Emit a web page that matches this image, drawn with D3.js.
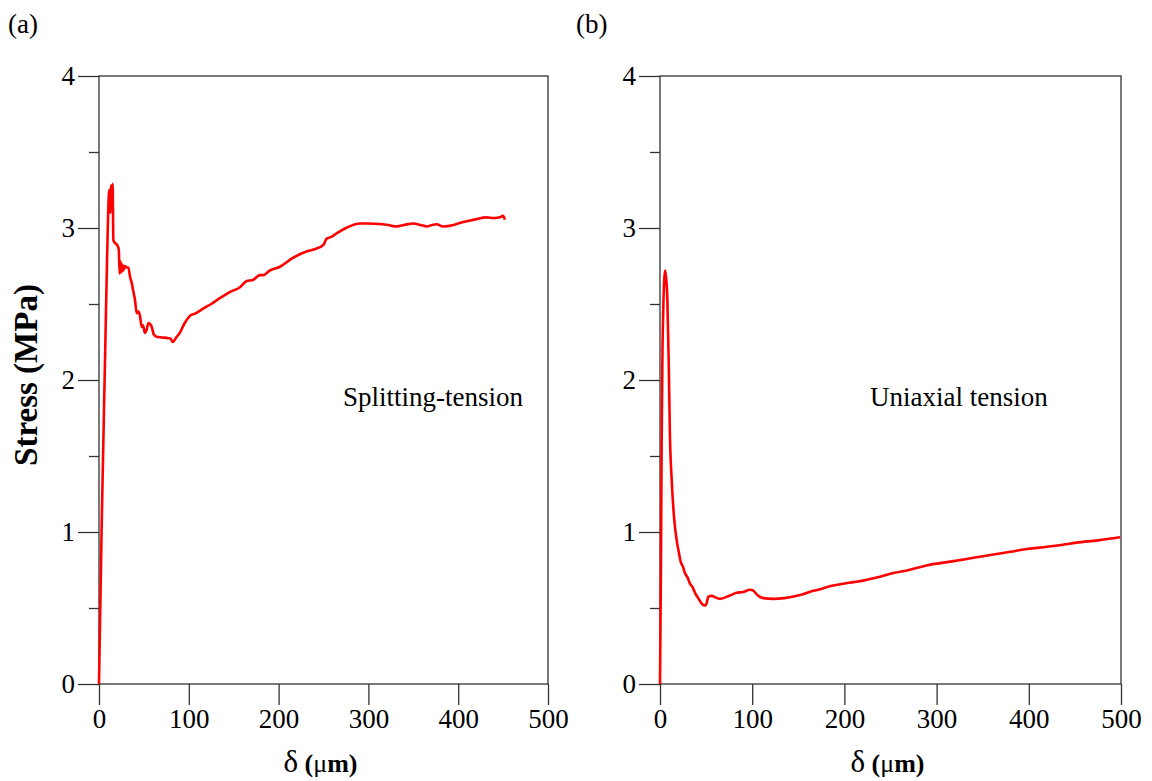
<!DOCTYPE html>
<html>
<head>
<meta charset="utf-8">
<script src="https://cdn.jsdelivr.net/npm/d3@7"></script>
<style>
  body { margin: 0; background: #fff; }
  svg { display: block; font-family: "Liberation Serif", "Times New Roman", serif; }
</style>
</head>
<body>
<svg id="chart" width="1152" height="781"></svg>
<script>
// ---- data (delta in um, stress in MPa) ----
var splitX = [0, 3, 6.7, 9, 11.5, 12.5, 13.5, 14.5, 15.2, 16, 18, 20, 22, 23, 24, 25, 26, 27, 29, 31,
    32.7, 34.5, 36.4, 38, 40, 42, 44, 45.7, 47.5, 49, 51, 53, 55, 56.5, 58.7, 61, 64, 70, 77, 80, 82,
    86, 90, 95, 101, 108, 116, 125, 135, 146, 157, 164, 172, 179, 183, 190, 201.5, 215, 231, 240, 250,
    253.5, 258, 264.7, 275, 290.6, 300, 313, 322, 331.5, 340, 350, 358, 365, 371, 376, 383, 395, 405.7,
    418, 431.7, 440, 446.5, 450, 452];
var splitY = [0, 1.05, 2.13, 2.80, 3.25, 3.10, 3.28, 3.20, 3.29, 2.92, 2.90, 2.89, 2.86, 2.70, 2.78, 2.71, 2.76, 2.72, 2.75, 2.74,
    2.74, 2.68, 2.64, 2.59, 2.53, 2.44, 2.45, 2.42, 2.35, 2.36, 2.31, 2.33, 2.375, 2.37, 2.35, 2.30, 2.285, 2.28, 2.275, 2.27, 2.25,
    2.28, 2.31, 2.37, 2.42, 2.44, 2.47, 2.50, 2.54, 2.58, 2.61, 2.65, 2.66, 2.69, 2.69, 2.72, 2.745, 2.80, 2.845, 2.86, 2.89,
    2.93, 2.94, 2.965, 3.00, 3.03, 3.03, 3.026, 3.02, 3.01, 3.02, 3.03, 3.02, 3.01, 3.02, 3.025, 3.01, 3.02, 3.04,
    3.055, 3.07, 3.065, 3.07, 3.08, 3.055];

var uniX = [0, 1, 1.8, 2.7, 3.6, 4.5, 5.4, 6.5, 8, 9.5, 10.8, 12.7, 15.2, 18, 20, 22.4, 25, 27, 30, 32.5, 35, 38, 42, 45, 48.8,
    50.5, 52.4, 56, 60, 65, 75, 83, 90, 97.6, 101, 103.5, 106.6, 112, 123, 135, 144.6, 155, 162.7, 175, 185,
    198.8, 210, 220.5, 235, 253, 270, 289, 315, 340, 360, 380, 400, 416, 435, 452, 475, 499];
var uniY = [0, 0.75, 1.6, 2.2, 2.48, 2.65, 2.72, 2.68, 2.53, 2.10, 1.63, 1.34, 1.10, 0.95, 0.88, 0.805, 0.77, 0.73, 0.70, 0.66, 0.64, 0.60, 0.56, 0.53, 0.515,
    0.53, 0.575, 0.58, 0.57, 0.56, 0.58, 0.60, 0.605, 0.62, 0.615, 0.60, 0.58, 0.565, 0.56, 0.565, 0.575, 0.59, 0.607, 0.625, 0.645,
    0.66, 0.67, 0.68, 0.70, 0.73, 0.75, 0.78, 0.805, 0.83, 0.85, 0.87, 0.89, 0.90, 0.915, 0.93, 0.945, 0.965];

var xTicks = [0, 100, 200, 300, 400, 500];
var yTicks = [0, 1, 2, 3, 4];
var yMinorTicks = [0.5, 1.5, 2.5, 3.5];

var panels = [
    { tag: '(a)', note: 'Splitting-tension', xs: splitX, ys: splitY, left: 99, right: 548, tagX: 8, noteX: 343 },
    { tag: '(b)', note: 'Uniaxial tension', xs: uniX, ys: uniY, left: 660, right: 1121, tagX: 576, noteX: 870 }
];

var svg = d3.select('#chart');
var plotTop = 76, plotBottom = 684;
var axisColor = '#333';

panels.forEach(function(p) {
    var x = d3.scaleLinear().domain([0, 500]).range([p.left, p.right]);
    var y = d3.scaleLinear().domain([0, 4]).range([plotBottom, plotTop]);
    var g = svg.append('g');

    // frame
    g.append('rect')
        .attr('x', p.left).attr('y', plotTop)
        .attr('width', p.right - p.left).attr('height', plotBottom - plotTop)
        .style('fill', 'none').style('stroke', axisColor).style('stroke-width', 1.3);

    // x axis
    var xAxis = d3.axisBottom(x).tickValues(xTicks).tickSize(21).tickPadding(4).tickFormat(d3.format('d'));
    var xa = g.append('g').attr('transform', 'translate(0,' + plotBottom + ')').call(xAxis);
    xa.select('.domain').remove();

    // y axis, major + minor
    var yAxis = d3.axisLeft(y).tickValues(yTicks).tickSize(21).tickPadding(3).tickFormat(d3.format('d'));
    var ya = g.append('g').attr('transform', 'translate(' + p.left + ',0)').call(yAxis);
    ya.select('.domain').remove();
    var yMinor = d3.axisLeft(y).tickValues(yMinorTicks).tickSize(10).tickFormat('');
    var ym = g.append('g').attr('transform', 'translate(' + p.left + ',0)').call(yMinor);
    ym.select('.domain').remove();

    g.selectAll('.tick line').style('stroke', axisColor).style('stroke-width', 1.3);
    g.selectAll('.tick text')
        .style('font-family', '"Liberation Serif", serif')
        .style('font-size', '27px')
        .style('fill', '#000');

    // curve
    var pts = p.xs.map(function(d, i) { return [d, p.ys[i]]; });
    var line = d3.line()
        .x(function(d) { return x(d[0]); })
        .y(function(d) { return y(d[1]); })
        .curve(d3.curveMonotoneX);
    g.append('path')
        .datum(pts)
        .attr('d', line)
        .style('fill', 'none')
        .style('stroke', '#ff0000')
        .style('stroke-width', 2.6)
        .style('stroke-linejoin', 'round');

    // panel tag
    g.append('text')
        .attr('x', p.tagX).attr('y', 33)
        .style('font-size', '27px')
        .text(p.tag);

    // annotation
    g.append('text')
        .attr('x', p.noteX).attr('y', 406)
        .style('font-size', '27px')
        .text(p.note);

    // x title
    var xt = g.append('text')
        .attr('x', (p.left + p.right) / 2 - 3).attr('y', 772)
        .style('text-anchor', 'middle');
    xt.append('tspan').style('font-size', '31px').text('\u03b4');
    xt.append('tspan').style('font-size', '26px').style('font-weight', 'bold').text(' (');
    xt.append('tspan').style('font-size', '26px').text('\u03bc');
    xt.append('tspan').style('font-size', '26px').style('font-weight', 'bold').text('m)');
});

// y title, only on the left panel
svg.append('text')
    .attr('transform', 'translate(37,375) rotate(-90)')
    .style('text-anchor', 'middle')
    .style('font-size', '33px')
    .style('font-weight', 'bold')
    .text('Stress (MPa)');
</script>
</body>
</html>
